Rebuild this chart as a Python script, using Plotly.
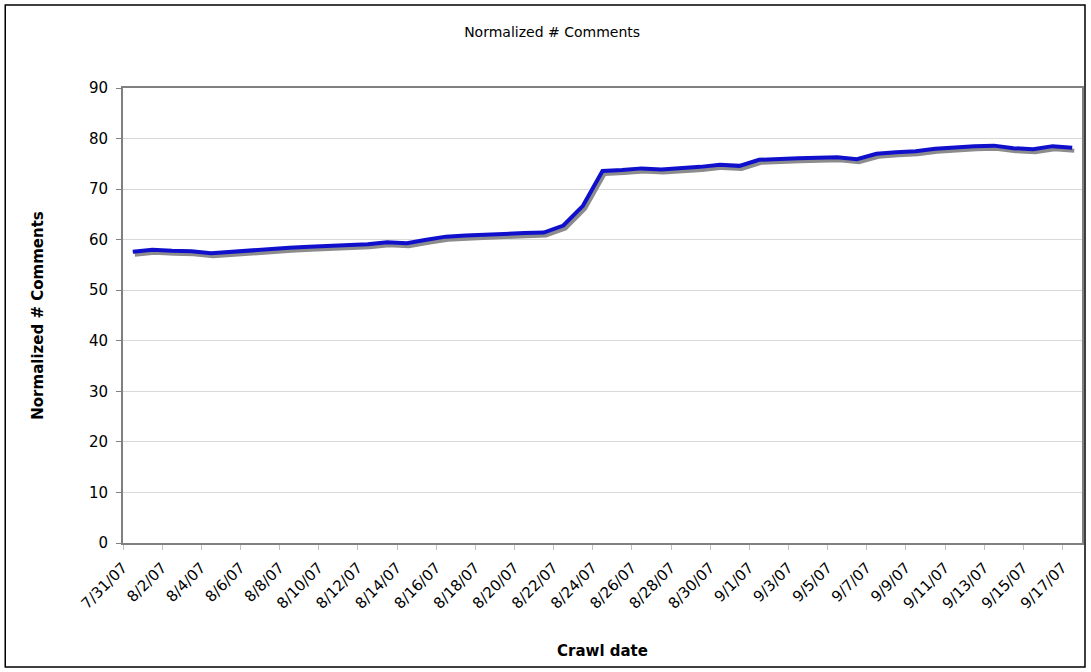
import pandas as pd
import plotly.graph_objects as go

# Crawl dates (daily, 7/31/07 .. 9/17/07)
dates = list(pd.date_range("2007-07-31", "2007-09-17", freq="D"))

normalized_comments = [
    57.6, 58.0, 57.8, 57.7, 57.3, 57.6, 57.9, 58.2, 58.4, 58.6,
    58.8, 59.0, 59.1, 59.5, 59.3, 60.0, 60.6, 60.8, 61.0, 61.2,
    61.3, 61.4, 62.8, 66.7, 73.6, 73.8, 74.1, 73.9, 74.1, 74.4,
    74.8, 74.6, 75.8, 76.0, 76.1, 76.2, 76.3, 75.9, 77.0, 77.3,
    77.5, 78.0, 78.3, 78.5, 78.6, 78.1, 77.9, 78.5, 78.2,
]

tick_dates = dates[::2]
tick_labels = [f"{d.month}/{d.day}/{d:%y}" for d in tick_dates]

FONT = "DejaVu Sans"

# points are centred within each day's slot
x_pts = [d + pd.Timedelta(hours=12) for d in dates]
# shadow offset (style only)
x_shadow = [d + pd.Timedelta(hours=14.5) for d in dates]
y_shadow = [v - 0.6 for v in normalized_comments]

fig = go.Figure()
fig.add_trace(go.Scatter(x=x_shadow, y=y_shadow, mode="lines",
                         line=dict(color="#8c8c8c", width=4),
                         hoverinfo="skip", showlegend=False))
fig.add_trace(go.Scatter(x=x_pts, y=normalized_comments, mode="lines",
                         line=dict(color="#1010cc", width=4),
                         name="Normalized # Comments", showlegend=False))

L, R, T, B = 123, 7, 88, 129
W, H = 1091, 672
pw, ph = W - L - R, H - T - B

fig.update_layout(
    width=W, height=H,
    margin=dict(l=L, r=R, t=T, b=B),
    paper_bgcolor="white", plot_bgcolor="white",
    font=dict(family=FONT, color="black"),
    title=dict(text="Normalized # Comments", x=(553 - L) / pw, xref="paper",
               xanchor="center", y=1 - 32 / H, yanchor="middle",
               font=dict(size=14, family=FONT)),
    xaxis=dict(
        type="date",
        range=[dates[0], dates[-1] + pd.Timedelta(days=1)],
        tickmode="array", tickvals=tick_dates, ticktext=tick_labels,
        tickangle=-45, tickfont=dict(size=15, family=FONT),
        ticklabelstandoff=3,
        showgrid=False, showline=True, linecolor="#808080", linewidth=2,
        mirror=True, ticks="outside", ticklen=5, tickcolor="#c0c0c0",
        title=dict(text="<b>Crawl date</b>", font=dict(size=15, family=FONT),
                   standoff=34),
        zeroline=False,
    ),
    yaxis=dict(
        range=[0, 90], tickvals=list(range(0, 91, 10)),
        tickfont=dict(size=15, family=FONT),
        ticklabelstandoff=5,
        showgrid=True, gridcolor="#d9d9d9", gridwidth=1,
        showline=True, linecolor="#808080", linewidth=2, mirror=True,
        ticks="outside", ticklen=5, tickcolor="#808080",
        title=dict(text="<b>Normalized # Comments</b>",
                   font=dict(size=15, family=FONT), standoff=42),
        zeroline=False,
    ),
    shapes=[dict(type="rect", xref="paper", yref="paper",
                 x0=(5 - L) / pw, x1=(1087 - L) / pw,
                 y0=(H - B - 667) / ph, y1=(H - B - 5) / ph,
                 line=dict(color="black", width=1.5), layer="below")],
)

fig.write_html("out.html")
